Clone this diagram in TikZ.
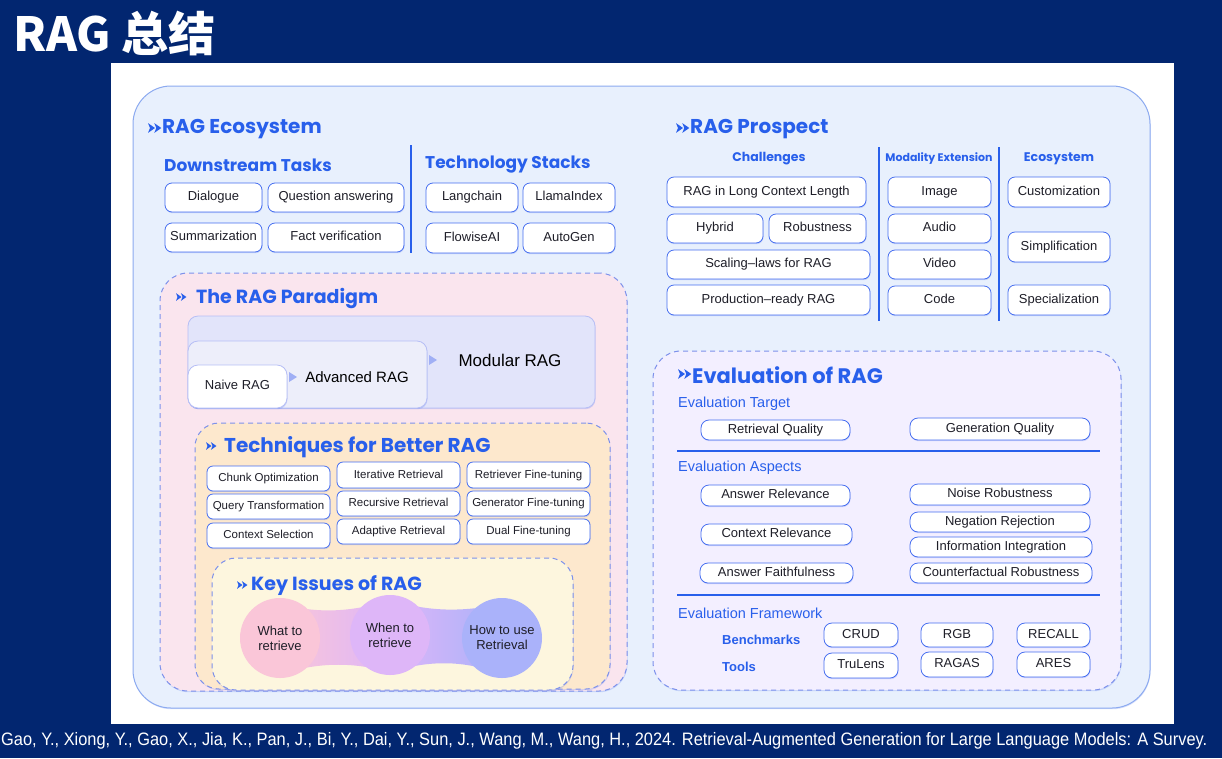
\documentclass[tikz,border=0pt]{standalone}
\usepackage{fontspec}
\usetikzlibrary{shadows}
\setmainfont{Liberation Sans}
\newfontfamily\hfont{Poppins}
\newfontfamily\cjkfont{Noto Sans CJK SC}
\definecolor{navy}{RGB}{2,38,112}
\definecolor{ecofill}{RGB}{232,240,253}
\definecolor{ecob}{RGB}{140,170,240}
\definecolor{hblue}{RGB}{40,95,235}
\definecolor{boxb}{RGB}{70,110,240}
\definecolor{dashb}{RGB}{125,145,235}
\definecolor{parfill}{RGB}{250,229,238}
\definecolor{techfill}{RGB}{253,232,205}
\definecolor{keyfill}{RGB}{253,246,222}
\definecolor{evalfill}{RGB}{243,239,255}
\definecolor{modfill}{RGB}{226,228,250}
\definecolor{modb}{RGB}{182,190,245}
\definecolor{advfill}{RGB}{237,238,250}
\definecolor{arrl}{RGB}{160,175,245}
\definecolor{pinkc}{RGB}{250,198,216}
\definecolor{purpc}{RGB}{222,182,248}
\definecolor{bluec}{RGB}{170,178,250}
\definecolor{textc}{RGB}{30,30,40}
\newcommand\bxn[7][]{%
  \pgfmathsetmacro\mybw{#5-#3}\pgfmathsetmacro\mybh{#6-#4}%
  \node[bx,#1,minimum width=\mybw pt,minimum height=\mybh pt] (#2) at ({(#3+#5)/2},{(#4+#6)/2}) {#7};}
\newcommand\hdarr[3]{%
  \fill[hblue] (#1,{#2-0.35*#3}) -- ({#1+0.5*#3},#2) -- (#1,{#2+0.35*#3}) -- ({#1+0.14*#3},#2) -- cycle;
  \fill[hblue] ({#1+0.45*#3},{#2-0.35*#3}) -- ({#1+0.95*#3},#2) -- ({#1+0.45*#3},{#2+0.35*#3}) -- ({#1+0.59*#3},#2) -- cycle;}
\begin{document}
\begin{tikzpicture}[x=1pt,y=-1pt,
  bx/.style={draw=boxb, line width=0.8pt, fill=white, rounded corners=7pt,
    drop shadow={shadow xshift=0.5pt, shadow yshift=-1.2pt, fill=boxb, opacity=0.22},
    font=\fontsize{13}{15}\selectfont, text=textc, inner sep=1pt, text height=0.72em, text depth=0.03em},
  sbx/.style={font=\fontsize{11.5}{13}\selectfont, rounded corners=6pt},
  eco/.style={draw=ecob, line width=1pt, fill=ecofill, rounded corners=38pt, drop shadow={opacity=0}},
  dsh/.style={draw=dashb, line width=1pt, dash pattern=on 5pt off 4pt, rounded corners=28pt, drop shadow={opacity=0}},
  h1/.style={anchor=west, inner sep=0, text=hblue, font=\hfont\bfseries\fontsize{20}{24}\selectfont},
  h2/.style={anchor=west, inner sep=0, text=hblue, font=\hfont\bfseries\fontsize{17}{20}\selectfont},
  h3/.style={inner sep=0, text=hblue, font=\hfont\bfseries\fontsize{12.5}{15}\selectfont},
  elab/.style={anchor=west, inner sep=0, text=hblue, font=\fontsize{14.5}{17}\selectfont},
  flab/.style={anchor=west, inner sep=0, text=hblue, font=\bfseries\fontsize{13}{15}\selectfont},
  sep/.style={draw=hblue, line width=1.4pt},
  ptext/.style={inner sep=0, text=black, font=\fontsize{15}{18}\selectfont},
  circ/.style={circle, minimum size=80pt, inner sep=0, align=center, text=textc, font=\fontsize{13}{15}\selectfont},
  tarr/.style={fill=arrl}
]
\useasboundingbox (0,0) rectangle (1222,758);
\fill[navy] (0,0) rectangle (1222,758);
\fill[white] (111,63) rectangle (1174,724);
\node[anchor=west, text=white, inner sep=0, font=\cjkfont\bfseries\fontsize{47}{52}\selectfont] (title) at (13,33) {RAG 总结};

% outer ecosystem
\bxn[eco, text height=, text depth=]{ecobox}{133}{86}{1150}{708}{}
\hdarr{148}{128}{14}
\node[h1] (ecot) at (162,129) {RAG Ecosystem};
\node[h2] (dst) at (164,165) {Downstream Tasks};
\node[h2] (tst) at (425,165) {Technology Stacks};
\coordinate (v1a) at (411,145); \coordinate (v1b) at (411,253);
\draw[sep] (v1a) -- (v1b);
\bxn{dialogue}{165}{183}{262}{212}{Dialogue}
\bxn{qa}{268}{183}{404}{212}{Question answering}
\bxn{summ}{165}{223}{262}{252}{Summarization}
\bxn{fact}{268}{223}{404}{252}{Fact verification}
\bxn{lang}{426}{183}{518}{212}{Langchain}
\bxn{llama}{523}{183}{615}{212}{LlamaIndex}
\bxn{flow}{426}{223}{518}{253}{FlowiseAI}
\bxn{autogen}{523}{223}{615}{253}{AutoGen}

% prospect
\hdarr{676}{128}{14}
\node[h1] (prost) at (690,129) {RAG Prospect};
\node[h3] (chal) at (769,159) {Challenges};
\node[h3, font=\hfont\bfseries\fontsize{11}{13}\selectfont] (moda) at (939,159) {Modality Extension};
\node[h3] (ecos) at (1059,159) {Ecosystem};
\coordinate (v2a) at (879,147); \coordinate (v2b) at (879,321);
\coordinate (v3a) at (999,147); \coordinate (v3b) at (999,321);
\draw[sep] (v2a) -- (v2b);
\draw[sep] (v3a) -- (v3b);
\bxn{longctx}{667}{177}{866}{207}{RAG in Long Context Length}
\bxn{hybrid}{667}{214}{763}{243}{Hybrid}
\bxn{robust}{769}{214}{866}{243}{Robustness}
\bxn{scaling}{667}{250}{870}{279}{Scaling–laws for RAG}
\bxn{prod}{667}{285}{870}{315}{Production–ready RAG}
\bxn{image}{888}{177}{991}{207}{Image}
\bxn{audio}{888}{214}{991}{243}{Audio}
\bxn{video}{888}{250}{991}{279}{Video}
\bxn{code}{888}{286}{991}{315}{Code}
\bxn{custom}{1008}{177}{1110}{207}{Customization}
\bxn{simpl}{1008}{232}{1110}{262}{Simplification}
\bxn{spec}{1008}{285}{1110}{315}{Specialization}

% paradigm
\bxn[dsh, fill=parfill]{parbox}{160}{273}{627}{691}{}
\hdarr{176}{297}{11}
\node[h1, font=\hfont\bfseries\fontsize{19}{22}\selectfont] (part) at (196,298) {The RAG Paradigm};
\bxn[draw=modb, fill=modfill, rounded corners=10pt]{modular}{188}{316}{595}{408}{}
\bxn[draw=modb, fill=advfill, rounded corners=10pt]{advanced}{188}{341}{427}{408}{}
\bxn[draw=modb, fill=white, rounded corners=10pt, font=\fontsize{13}{15}\selectfont]{naive}{188}{365}{287}{408}{Naive RAG}
\node[ptext, font=\fontsize{17}{20}\selectfont] (modt) at (510,360) {Modular RAG};
\node[ptext] (advt) at (357,377) {Advanced RAG};
\fill[tarr] (289,372) -- (297,377) -- (289,382) -- cycle;
\fill[tarr] (429,355) -- (437,360) -- (429,365) -- cycle;

% techniques
\bxn[dsh, fill=techfill, rounded corners=24pt]{techbox}{195}{423}{610}{689}{}
\hdarr{206}{446}{11}
\node[h1] (techt) at (224,447) {Techniques for Better RAG};
\bxn[sbx]{chunk}{207}{466}{330}{491}{Chunk Optimization}
\bxn[sbx]{query}{207}{494}{330}{519}{Query Transformation}
\bxn[sbx]{ctxsel}{207}{523}{330}{548}{Context Selection}
\bxn[sbx]{iter}{337}{462}{460}{488}{Iterative Retrieval}
\bxn[sbx]{recur}{337}{491}{460}{516}{Recursive Retrieval}
\bxn[sbx]{adapt}{337}{519}{460}{544}{Adaptive Retrieval}
\bxn[sbx]{retft}{467}{462}{590}{488}{Retriever Fine-tuning}
\bxn[sbx]{genft}{467}{491}{590}{516}{Generator Fine-tuning}
\bxn[sbx]{dualft}{467}{519}{590}{544}{Dual Fine-tuning}

% key issues
\bxn[dsh, fill=keyfill, rounded corners=24pt]{keybox}{212}{558}{573}{690}{}
\hdarr{237}{585}{11}
\node[h1, font=\hfont\bfseries\fontsize{19}{22}\selectfont] (keyt) at (251,586) {Key Issues of RAG};
\shade[left color=pinkc, right color=purpc] (280,604) .. controls (320,614) and (352,612) .. (390,600) -- (390,672) .. controls (352,662) and (320,662) .. (280,674) -- cycle;
\shade[left color=purpc, right color=bluec] (390,600) .. controls (430,612) and (462,612) .. (502,604) -- (502,674) .. controls (462,660) and (430,660) .. (390,672) -- cycle;
\node[circ, fill=pinkc] (what) at (280,638) {What to\\retrieve};
\node[circ, fill=purpc] (when) at (390,635) {When to\\retrieve};
\node[circ, fill=bluec] (how) at (502,638) {How to use\\Retrieval};

% evaluation
\bxn[dsh, fill=evalfill]{evalbox}{653}{351}{1121}{690}{}
\hdarr{678}{374}{14}
\node[h1, font=\hfont\bfseries\fontsize{21}{24}\selectfont] (evalt) at (692,375) {Evaluation of RAG};
\node[elab] (etarget) at (678,404) {Evaluation Target};
\bxn[rounded corners=8pt]{retq}{701}{420}{850}{440}{Retrieval Quality}
\bxn[rounded corners=8pt]{genq}{910}{418}{1090}{440}{Generation Quality}
\coordinate (h1a) at (677,451); \coordinate (h1b) at (1100,451);
\draw[sep, line width=1.2pt] (h1a) -- (h1b);
\node[elab] (easp) at (678,468) {Evaluation Aspects};
\bxn[rounded corners=8pt]{ansrel}{701}{485}{850}{506}{Answer Relevance}
\bxn[rounded corners=8pt]{ctxrel}{701}{524}{852}{545}{Context Relevance}
\bxn[rounded corners=8pt]{ansfaith}{700}{563}{853}{583}{Answer Faithfulness}
\bxn[rounded corners=8pt]{noise}{910}{484}{1090}{505}{Noise Robustness}
\bxn[rounded corners=8pt]{negrej}{910}{512}{1090}{532}{Negation Rejection}
\bxn[rounded corners=8pt]{infoint}{910}{537}{1092}{557}{Information Integration}
\bxn[rounded corners=8pt]{counter}{910}{563}{1092}{583}{Counterfactual Robustness}
\coordinate (h2a) at (677,595); \coordinate (h2b) at (1100,595);
\draw[sep, line width=1.2pt] (h2a) -- (h2b);
\node[elab] (efw) at (678,613) {Evaluation Framework};
\node[flab] (bench) at (722,640) {Benchmarks};
\node[flab] (tools) at (722,667) {Tools};
\bxn[rounded corners=8pt]{crud}{824}{623}{898}{647}{CRUD}
\bxn[rounded corners=8pt]{rgb}{921}{623}{993}{647}{RGB}
\bxn[rounded corners=8pt]{recall}{1017}{623}{1090}{647}{RECALL}
\bxn[rounded corners=8pt]{trulens}{824}{653}{898}{678}{TruLens}
\bxn[rounded corners=8pt]{ragas}{921}{652}{993}{677}{RAGAS}
\bxn[rounded corners=8pt]{ares}{1017}{652}{1090}{677}{ARES}

% citation
\node[anchor=west, inner sep=0, text=white, font=\fontsize{18}{20}\selectfont] (cite) at (1,741) {\resizebox{1206pt}{\height}{Gao, Y., Xiong, Y., Gao, X., Jia, K., Pan, J., Bi, Y., Dai, Y., Sun, J., Wang, M., Wang, H., 2024. Retrieval-Augmented Generation for Large Language Models: A Survey.}};
\end{tikzpicture}
\end{document}
